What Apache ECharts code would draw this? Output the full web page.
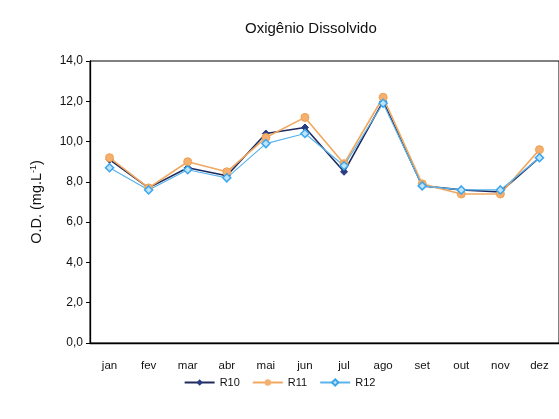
<!DOCTYPE html>
<html>
<head>
<meta charset="utf-8">
<script src="https://cdn.jsdelivr.net/npm/echarts@6/dist/echarts.min.js"></script>
<style>
  html, body { margin: 0; padding: 0; background: #fff; }
  #chart { width: 559px; height: 419px; }
</style>
</head>
<body>
<div id="chart"></div>
<script>
// Monthly dissolved oxygen (mg/L) at three sampling points
const months = ['jan', 'fev', 'mar', 'abr', 'mai', 'jun', 'jul', 'ago', 'set', 'out', 'nov', 'dez'];
const r10 = [9.1, 7.7, 8.7, 8.3, 10.4, 10.7, 8.5, 12.0, 7.8, 7.6, 7.5, 9.2];
const r11 = [9.2, 7.7, 9.0, 8.5, 10.2, 11.2, 8.9, 12.2, 7.9, 7.4, 7.4, 9.6];
const r12 = [8.7, 7.6, 8.6, 8.2, 9.9, 10.4, 8.8, 11.9, 7.8, 7.6, 7.6, 9.2];
const yTicks = [0, 2, 4, 6, 8, 10, 12, 14];

const font = 'Liberation Sans, Arial, sans-serif';
const chart = echarts.init(document.getElementById('chart'));

chart.setOption({
  animation: false,
  backgroundColor: '#fff',
  title: {
    text: 'Oxigênio Dissolvido',
    left: 240,
    top: 16,
    textStyle: { fontFamily: font, fontSize: 15, fontWeight: 'normal', color: '#111' }
  },
  legend: {
    top: 372,
    left: 'center',
    itemWidth: 30,
    itemHeight: 8,
    itemGap: 12,
    textStyle: { fontFamily: font, fontSize: 11, color: '#111' },
    data: ['R10', 'R11', 'R12']
  },
  grid: {
    left: 90,
    top: 61,
    width: 480,
    height: 282,
    show: true,
    borderColor: '#000',
    borderWidth: 1
  },
  xAxis: [
    {
      type: 'category',
      data: months,
      boundaryGap: true,
      axisLine: { lineStyle: { color: '#000', width: 1.3 } },
      axisTick: { inside: true, length: 4, lineStyle: { color: '#000' } },
      axisLabel: { fontFamily: font, fontSize: 11.5, color: '#111', margin: 17 }
    },
    {
      type: 'category',
      data: months,
      position: 'bottom',
      boundaryGap: true,
      axisLine: { show: false },
      axisTick: { alignWithLabel: true, inside: false, length: 3, lineStyle: { color: '#000' } },
      axisLabel: { show: false }
    }
  ],
  yAxis: {
    type: 'value',
    min: yTicks[0],
    max: yTicks[yTicks.length - 1],
    interval: 2,
    splitLine: { show: false },
    axisLine: { show: true, lineStyle: { color: '#000', width: 1.3 } },
    axisTick: { show: true, length: 4, lineStyle: { color: '#000' } },
    axisLabel: {
      fontFamily: font, fontSize: 12, color: '#111', margin: 7,
      formatter: v => v.toFixed(1).replace('.', ',')
    },
    name: 'O.D. (mg.L{sup|-1})',
    nameLocation: 'middle',
    nameGap: 45,
    nameRotate: 90,
    nameTextStyle: {
      fontFamily: font, fontSize: 14.5, color: '#111',
      rich: { sup: { fontFamily: font, fontSize: 9, verticalAlign: 'top', padding: [0, 0, 7, 0] } }
    }
  },
  series: [
    {
      name: 'R10', type: 'line', data: r10,
      symbol: 'diamond', symbolSize: 7,
      lineStyle: { color: '#1e2a5e', width: 1.6 },
      itemStyle: { color: '#2a3c80', borderColor: '#2a3c80' }
    },
    {
      name: 'R11', type: 'line', data: r11,
      symbol: 'circle', symbolSize: 8,
      lineStyle: { color: '#f0a860', width: 1.6 },
      itemStyle: { color: '#f5b070', borderColor: '#f0a050' }
    },
    {
      name: 'R12', type: 'line', data: r12,
      symbol: 'diamond', symbolSize: 8,
      lineStyle: { color: '#5ab4ec', width: 1.2 },
      itemStyle: { color: '#bfe3fa', borderColor: '#3aa6ec', borderWidth: 1.5 }
    }
  ]
});
</script>
</body>
</html>
